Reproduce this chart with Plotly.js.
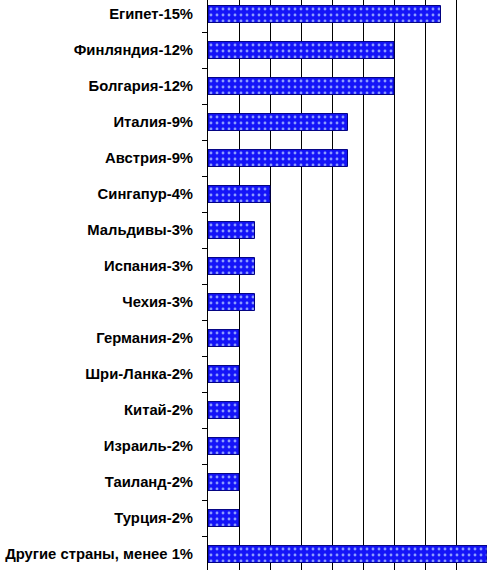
<!DOCTYPE html>
<html>
<head>
<meta charset="utf-8">
<script src="https://cdn.plot.ly/plotly-3.0.1.min.js"></script>
<style>html,body{margin:0;padding:0;background:#fff;}#chart{width:487px;height:570px;}</style>
</head>
<body>
<div id="chart"></div>
<script>
const categories = [
  "Египет-15%", "Финляндия-12%", "Болгария-12%", "Италия-9%", "Австрия-9%",
  "Сингапур-4%", "Мальдивы-3%", "Испания-3%", "Чехия-3%", "Германия-2%",
  "Шри-Ланка-2%", "Китай-2%", "Израиль-2%", "Таиланд-2%", "Турция-2%",
  "Другие страны, менее 1%"
];
const values = [15, 12, 12, 9, 9, 4, 3, 3, 3, 2, 2, 2, 2, 2, 2, 18];

const trace = {
  type: 'bar',
  orientation: 'h',
  y: categories,
  x: values,
  width: 0.47,
  marker: {
    color: '#1414f8',
    line: {color: '#000080', width: 1},
    pattern: {shape: '.', fgcolor: '#8c9cff', bgcolor: '#1414f8', size: 6, solidity: 0.18}
  },
  hoverinfo: 'none'
};

const layout = {
  width: 487, height: 570,
  margin: {l: 208, r: 0, t: 0, b: 0, pad: 0},
  paper_bgcolor: '#ffffff', plot_bgcolor: '#ffffff',
  showlegend: false,
  font: {family: 'Liberation Sans, Arial, sans-serif', size: 12, color: '#000'},
  xaxis: {
    range: [0, 18], dtick: 2, tick0: 0,
    showgrid: true, gridcolor: '#000', gridwidth: 1,
    showticklabels: false, zeroline: false, showline: false, ticks: ''
  },
  yaxis: {
    type: 'category',
    range: [15.444, -0.389],
    showline: true, linecolor: '#000', linewidth: 1,
    ticks: 'outside', ticklen: 5, tickcolor: '#000', tickwidth: 1,
    tickson: 'boundaries',
    showgrid: false, zeroline: false,
    tickfont: {family: 'Liberation Sans, Arial, sans-serif', size: 14.8, color: '#000', weight: 'bold'},
    ticklabelstandoff: 11
  }
};

Plotly.newPlot('chart', [trace], layout, {staticPlot: true, displayModeBar: false});
</script>
</body>
</html>
